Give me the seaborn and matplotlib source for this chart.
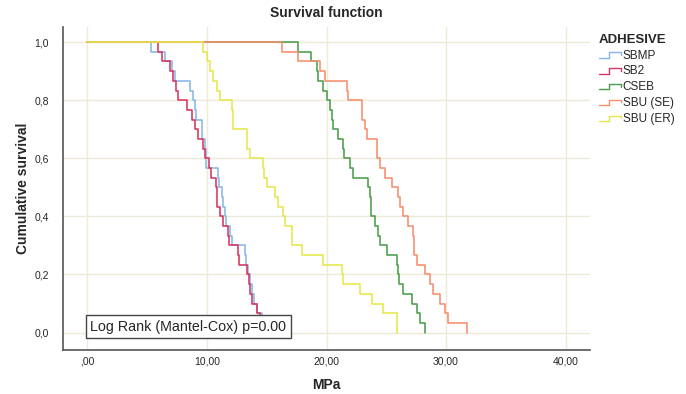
import numpy as np
import pandas as pd
import seaborn as sns
import matplotlib.pyplot as plt
from matplotlib.lines import Line2D

# event times (MPa), n = 30 specimens per adhesive
sbmp = [5.3, 6.5, 7.05, 7.3, 8.55, 8.8, 9.0, 9.05, 9.55, 9.6,
        9.85, 9.9, 9.95, 10.95, 11.0, 11.23, 11.3, 11.5, 11.6, 11.9,
        12.06, 13.18, 13.25, 13.46, 13.6, 13.75, 13.9, 14.2, 14.6, 14.85]
sb2 = [5.93, 6.21, 6.9, 7.18, 7.4, 7.6, 8.3, 8.72, 9.0, 9.27,
       9.69, 9.8, 10.2, 10.3, 10.73, 10.81, 10.85, 11.09, 11.37, 11.79,
       11.8, 12.62, 12.65, 13.32, 13.5, 13.6, 13.74, 14.16, 14.4, 14.7]
cseb = [17.59, 18.68, 19.18, 19.25, 19.73, 20.0, 20.29, 20.43, 20.57, 21.0,
        21.41, 21.45, 21.97, 22.24, 23.5, 23.64, 23.7, 23.75, 24.06, 24.34,
        24.48, 25.04, 25.87, 26.01, 26.05, 26.43, 27.13, 27.55, 27.82, 28.24]
sbu_se = [16.25, 17.64, 19.46, 19.87, 21.69, 21.83, 22.94, 22.96, 23.22, 23.36,
          24.2, 24.22, 24.48, 24.9, 25.45, 26.01, 26.15, 26.43, 26.85, 27.27,
          27.29, 27.31, 27.55, 28.24, 28.66, 28.94, 29.5, 29.92, 30.2, 31.75]
sbu_er = [9.69, 9.97, 10.25, 10.53, 10.81, 11.09, 12.1, 12.15, 12.2, 13.32,
          13.35, 13.6, 14.71, 14.75, 15.0, 15.69, 15.97, 16.39, 16.53, 17.09,
          17.12, 17.92, 19.73, 21.27, 21.4, 22.8, 23.78, 24.75, 25.87, 25.87]

groups = ["SBMP", "SB2", "CSEB", "SBU (SE)", "SBU (ER)"]
times = [sbmp, sb2, cseb, sbu_se, sbu_er]
colors = ["#86b7e6", "#d8345f", "#4a9e4a", "#f88e6c", "#e6e64a"]

rows = []
for g, t in zip(groups, times):
    t = np.sort(t)
    n = len(t)
    xs = np.r_[0.0, t]
    ss = np.r_[1.0, 1 - np.arange(1, n + 1) / n]
    for x, s in zip(xs, ss):
        rows.append({"MPa": x, "surv": s, "ADHESIVE": g})
df = pd.DataFrame(rows)

sns.set_style("white")
plt.rcParams["font.family"] = ["Liberation Sans", "DejaVu Sans"]

fig = plt.figure(figsize=(6.86, 3.94), dpi=100)
ax = fig.add_axes([63 / 686, 44 / 394, 527 / 686, 323 / 394])

sns.lineplot(data=df, x="MPa", y="surv", hue="ADHESIVE", palette=colors,
             estimator=None, sort=False, drawstyle="steps-post",
             linewidth=1.15, legend=False, ax=ax)

ax.set_xlim(-2.05, 42.05)
ax.set_ylim(-0.06, 1.052)
ax.set_xticks([0, 10, 20, 30, 40])
ax.set_xticklabels([",00", "10,00", "20,00", "30,00", "40,00"], fontsize=7.5)
ax.set_yticks([0, 0.2, 0.4, 0.6, 0.8, 1.0])
ax.set_yticklabels(["0,0", "0,2", "0,4", "0,6", "0,8", "1,0"], fontsize=7.5)
ax.tick_params(axis="x", length=0, pad=5)
ax.tick_params(axis="y", length=0, pad=10)
ax.grid(True, color="#eeead8", linewidth=1)
ax.set_axisbelow(True)
for side in ["top", "right"]:
    ax.spines[side].set_visible(False)
for side in ["left", "bottom"]:
    ax.spines[side].set_color("#555555")
    ax.spines[side].set_linewidth(1.2)

ax.set_xlabel("MPa", fontsize=10, fontweight="bold", labelpad=8)
ax.set_ylabel("Cumulative survival", fontsize=10, fontweight="bold", labelpad=3)
ax.set_title("Survival function", fontsize=10, fontweight="bold", pad=7)

ax.text(0.25, 0.02, "Log Rank (Mantel-Cox) p=0.00", fontsize=10.3, va="center",
        bbox=dict(boxstyle="square,pad=0.3", fc="white", ec="#444444", lw=1))


class StepHandler:
    def legend_artist(self, legend, orig_handle, fontsize, handlebox):
        w, h = handlebox.width, handlebox.height
        line = Line2D([0, w * 0.45, w * 0.45, w, w], [h * 0.1, h * 0.1, h * 0.75, h * 0.75, h * 0.45],
                      color=orig_handle.get_color(), lw=1, transform=handlebox.get_transform())
        handlebox.add_artist(line)
        return line


handles = [Line2D([], [], color=c) for c in colors]
leg = fig.legend(handles, groups, title="ADHESIVE", loc="upper left",
                 bbox_to_anchor=(588 / 686, 1 - 23 / 394), frameon=False,
                 fontsize=8.5, handlelength=1.9, handletextpad=0.15,
                 labelspacing=0.33, handler_map={Line2D: StepHandler()})
leg.get_title().set_fontweight("bold")
leg.get_title().set_fontsize(9.5)
leg._legend_box.align = "left"

fig.savefig("out.png", dpi=100)
